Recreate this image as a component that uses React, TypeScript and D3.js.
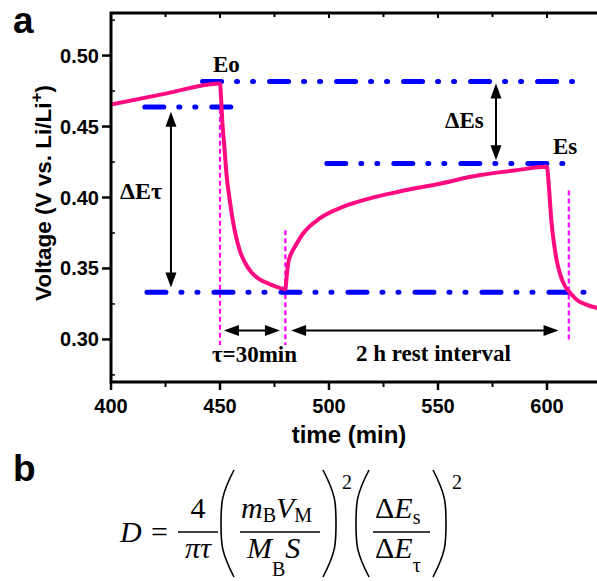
import React from "react";
import * as d3 from "d3";

// ---- data ----
const time = [400, 425, 450, 450.5, 451, 452, 453, 454.4, 456.7, 459, 461.5, 464, 468, 472, 476, 480,
  480.5, 481.3, 482.5, 484.4, 488.2, 495.9, 506.6, 518.8, 531.8, 550, 569.3, 585, 600,
  600.5, 601, 602.1, 603, 604.4, 606, 608.3, 610.5, 613.6, 618, 622.8, 626];
const voltage = [0.4655, 0.4732, 0.4803, 0.470, 0.455, 0.436, 0.416, 0.399, 0.377, 0.363, 0.354, 0.348, 0.3425, 0.3395, 0.337, 0.3355,
  0.343, 0.3538, 0.360, 0.3654, 0.3748, 0.3854, 0.3935, 0.3994, 0.404, 0.4095, 0.4158, 0.419, 0.4216,
  0.415, 0.405, 0.382, 0.370, 0.356, 0.346, 0.3374, 0.333, 0.328, 0.3245, 0.3222, 0.321];

const xTicks = [400, 450, 500, 550, 600];
const xMinor = [425, 475, 525, 575, 625];
const yTicks = [0.30, 0.35, 0.40, 0.45, 0.50];
const yMinor = [0.275, 0.325, 0.375, 0.425, 0.475, 0.525];

const refLevel = [0.4817, 0.4637, 0.4240, 0.3333];
const refStart = [442, 415.5, 499, 416.5];
const refEnd = [612, 455.5, 609, 618];

const markerT = [450, 480, 610];
const markerTop = [0.4625, 0.377, 0.405];
const markerBottom = [0.296, 0.296, 0.300];

// ---- layout ----
const W = 597, H = 581;
const x = d3.scaleLinear().domain([400, 625]).range([111, 601.5]);
const y = d3.scaleLinear().domain([0.27, 0.53]).range([382, 13]);

const serif = "'Liberation Serif', 'Times New Roman', serif";
const sans = "'Liberation Sans', Arial, sans-serif";

function Arrow({ x1, y1, x2, y2 }: { x1: number; y1: number; x2: number; y2: number }) {
  const dx = x2 - x1, dy = y2 - y1;
  const len = Math.hypot(dx, dy);
  const ux = dx / len, uy = dy / len;
  const hl = 15, hw = 5.5;
  const head = (px: number, py: number, sx: number, sy: number) => {
    const bx = px - sx * hl, by = py - sy * hl;
    return `M${px},${py}L${bx - sy * hw},${by + sx * hw}L${bx + sy * hw},${by - sx * hw}Z`;
  };
  return (
    <g>
      <line x1={x1 + ux * 8} y1={y1 + uy * 8} x2={x2 - ux * 8} y2={y2 - uy * 8} stroke="#000" strokeWidth={2} />
      <path d={head(x2, y2, ux, uy)} fill="#000" />
      <path d={head(x1, y1, -ux, -uy)} fill="#000" />
    </g>
  );
}

function Paren({ x0, top, bottom, left }: { x0: number; top: number; bottom: number; left: boolean }) {
  const w = 13;
  const mid = (top + bottom) / 2;
  const outer = left ? x0 + w : x0;
  const inner = left ? x0 : x0 + w;
  const d = `M${outer},${top} C${inner},${top + 25} ${inner},${mid - 20} ${inner},${mid} C${inner},${mid + 20} ${inner},${bottom - 25} ${outer},${bottom}`;
  return <path d={d} fill="none" stroke="#000" strokeWidth={1.6} />;
}

export default function App() {
  const line = d3.line<number>()
    .x((_, i) => x(time[i]))
    .y((v) => y(v))
    .curve(d3.curveMonotoneX);

  const fx = 30; // formula font size
  return (
    <div style={{ position: "absolute", left: 0, top: 0 }}>
      <svg width={W} height={H} style={{ display: "block", background: "#fff" }}>
        <defs>
          <clipPath id="plot">
            <rect x={111} y={13} width={490} height={369} />
          </clipPath>
        </defs>
        <rect width={W} height={H} fill="#fff" />

        {/* panel letters */}
        <text x={13} y={33} fontFamily={sans} fontWeight="bold" fontSize={37}>a</text>
        <text x={13} y={481} fontFamily={sans} fontWeight="bold" fontSize={37}>b</text>

        {/* magenta markers */}
        {markerT.map((t, i) => (
          <line key={"m" + i} x1={x(t)} x2={x(t)} y1={y(markerTop[i])} y2={y(markerBottom[i])}
            stroke="#ff00ff" strokeWidth={2.2} strokeDasharray="5 3" />
        ))}

        {/* blue dash-dot-dot reference lines */}
        {refLevel.map((v, i) => (
          <line key={"r" + i} x1={x(refStart[i])} x2={x(refEnd[i])} y1={y(v)} y2={y(v)}
            stroke="#0000ff" strokeWidth={5} strokeLinecap="round" strokeDasharray="19 15 1 15 1 16" />
        ))}

        {/* curve */}
        <path d={line(voltage) || ""} fill="none" stroke="#ff0a80" strokeWidth={4} clipPath="url(#plot)" strokeLinejoin="round" />

        {/* arrows */}
        <Arrow x1={x(427.5)} y1={y(0.4605)} x2={x(427.5)} y2={y(0.3365)} />
        <Arrow x1={x(576.6)} y1={y(0.4803)} x2={x(576.6)} y2={y(0.4263)} />
        <Arrow x1={x(451.8)} y1={y(0.3063)} x2={x(477.5)} y2={y(0.3063)} />
        <Arrow x1={x(482.6)} y1={y(0.3063)} x2={x(605.3)} y2={y(0.3063)} />

        {/* annotations */}
        <g fontFamily={serif} fontWeight="bold" fontSize={23}>
          <text x={213} y={72}>Eo</text>
          <text x={445} y={128}>ΔEs</text>
          <text x={553} y={154}>Es</text>
          <text x={120} y={199} fontSize={24}>ΔEτ</text>
          <text x={212} y={362}>τ=30min</text>
          <text x={356} y={361}>2 h rest interval</text>
        </g>

        {/* frame */}
        <path d={`M111,382 L111,13 L601.5,13 L601.5,382 Z`} fill="none" stroke="#000" strokeWidth={3} />

        {/* x ticks */}
        {xTicks.map((t) => (
          <g key={"xt" + t}>
            <line x1={x(t)} x2={x(t)} y1={382} y2={390} stroke="#000" strokeWidth={2.5} />
            <line x1={x(t)} x2={x(t)} y1={13} y2={18} stroke="#000" strokeWidth={2} />
            <text x={x(t)} y={413} textAnchor="middle" fontFamily={sans} fontWeight="bold" fontSize={20}>{t}</text>
          </g>
        ))}
        {xMinor.map((t) => (
          <g key={"xm" + t}>
            <line x1={x(t)} x2={x(t)} y1={382} y2={387} stroke="#000" strokeWidth={2} />
            <line x1={x(t)} x2={x(t)} y1={13} y2={17} stroke="#000" strokeWidth={2} />
          </g>
        ))}

        {/* y ticks */}
        {yTicks.map((v) => (
          <g key={"yt" + v}>
            <line x1={102} x2={111} y1={y(v)} y2={y(v)} stroke="#000" strokeWidth={2.5} />
            <text x={99} y={y(v) + 7} textAnchor="end" fontFamily={sans} fontWeight="bold" fontSize={20}>{v.toFixed(2)}</text>
          </g>
        ))}
        {yMinor.map((v) => (
          <line key={"ym" + v} x1={111} x2={115} y1={y(v)} y2={y(v)} stroke="#000" strokeWidth={1.5} />
        ))}

        {/* axis titles */}
        <text x={349} y={443} textAnchor="middle" fontFamily={sans} fontWeight="bold" fontSize={24}>time (min)</text>
        <text transform={`translate(51,193) rotate(-90)`} textAnchor="middle" fontFamily={sans} fontWeight="bold" fontSize={22.5}>
          Voltage (V vs. Li/Li<tspan dy={-9} fontSize={17}>+</tspan><tspan dy={9}>)</tspan>
        </text>

        {/* formula */}
        <g fontFamily={serif} fontSize={fx} transform="translate(12,5)">
          <text x={108} y={537} fontStyle="italic">D</text>
          <text x={139} y={537}>=</text>
          <text x={186} y={513} textAnchor="middle">4</text>
          <line x1={166} x2={206} y1={527} y2={527} stroke="#000" strokeWidth={1.5} />
          <text x={186} y={553} textAnchor="middle" fontStyle="italic">πτ</text>

          <Paren x0={209} top={465} bottom={572} left={true} />
          <text x={229} y={513}>
            <tspan fontStyle="italic">m</tspan><tspan fontSize={20} dy={4}>B</tspan><tspan fontStyle="italic" dy={-4}>V</tspan><tspan fontSize={20} dy={4}>M</tspan>
          </text>
          <line x1={228} x2={308} y1={527} y2={527} stroke="#000" strokeWidth={1.5} />
          <text x={235} y={553}>
            <tspan fontStyle="italic">M</tspan><tspan fontSize={20} dy={18}>B</tspan><tspan fontStyle="italic" dy={-18}>S</tspan>
          </text>
          <Paren x0={311} top={465} bottom={572} left={false} />
          <text x={330} y={484} fontSize={20}>2</text>

          <Paren x0={344} top={465} bottom={572} left={true} />
          <text x={363} y={513}>
            <tspan>Δ</tspan><tspan fontStyle="italic">E</tspan><tspan fontSize={20} dy={6}>s</tspan>
          </text>
          <line x1={361} x2={418} y1={527} y2={527} stroke="#000" strokeWidth={1.5} />
          <text x={363} y={553}>
            <tspan>Δ</tspan><tspan fontStyle="italic">E</tspan><tspan fontSize={20} dy={14}>τ</tspan>
          </text>
          <Paren x0={421} top={465} bottom={572} left={false} />
          <text x={440} y={484} fontSize={20}>2</text>
        </g>
      </svg>
    </div>
  );
}
